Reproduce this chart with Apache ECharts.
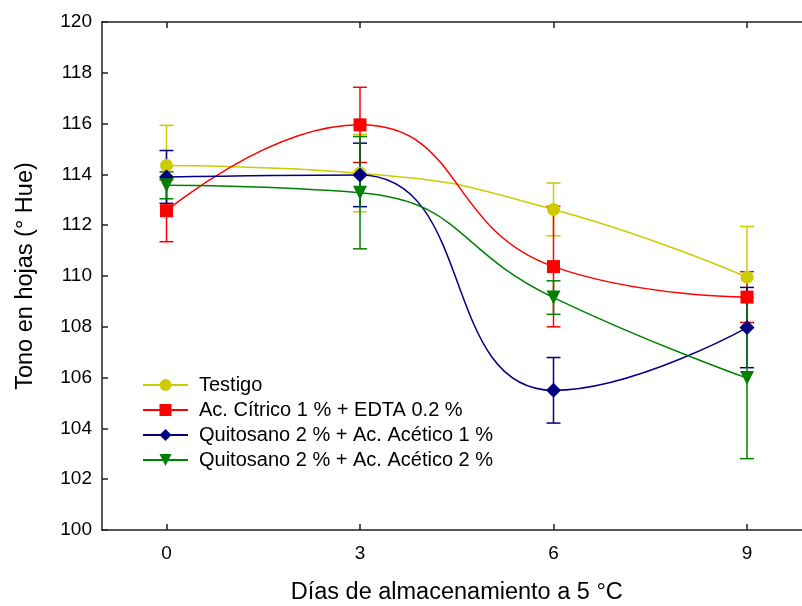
<!DOCTYPE html>
<html>
<head>
<meta charset="utf-8">
<script src="https://cdn.jsdelivr.net/npm/echarts@6/dist/echarts.min.js"></script>
<style>
  html, body { margin: 0; padding: 0; background: #fff; }
  #chart { width: 802px; height: 606px; }
</style>
</head>
<body>
<div id="chart"></div>
<script>
const days = [0, 3, 6, 9];
const names = [
  'Testigo',
  'Ac. Cítrico 1 % + EDTA 0.2 %',
  'Quitosano 2 % + Ac. Acético 1 %',
  'Quitosano 2 % + Ac. Acético 2 %'
];
const testigo = [114.35, 114.05, 112.62, 109.95];
const citrico = [112.57, 115.95, 110.37, 109.17];
const quito1 = [113.9, 113.98, 105.5, 107.97];
const quito2 = [113.57, 113.28, 109.15, 105.98];
const errTestigo = [1.58, 1.52, 1.04, 2.0];
const errCitrico = [1.22, 1.48, 2.37, 1.0];
const errQuito1 = [1.04, 1.25, 1.29, 1.58];
const errQuito2 = [0.53, 2.21, 0.66, 3.17];
const yTicks = [100, 102, 104, 106, 108, 110, 112, 114, 116, 118, 120];

const colors = ['#cccc00', '#ff0000', '#000080', '#008000'];
const symbols = ['circle', 'rect', 'diamond', 'triangle'];
const rotates = [0, 0, 0, 180];
const sizes = [13, 13, 15, 14];
const values = [testigo, citrico, quito1, quito2];
const errors = [errTestigo, errCitrico, errQuito1, errQuito2];

const chart = echarts.init(document.getElementById('chart'), null, { renderer: 'canvas' });

const font = '"Liberation Sans", Arial, sans-serif';

function errorBars(i) {
  const data = days.map((d, k) => [d, values[i][k] - errors[i][k], values[i][k] + errors[i][k]]);
  return {
    type: 'custom',
    name: names[i] + ' err',
    z: 1,
    data: data,
    encode: { x: 0, y: [1, 2] },
    renderItem: function (params, api) {
      const lo = api.coord([api.value(0), api.value(1)]);
      const hi = api.coord([api.value(0), api.value(2)]);
      const w = 7;
      const style = { stroke: colors[i], lineWidth: 1.5 };
      return {
        type: 'group',
        children: [
          { type: 'line', shape: { x1: lo[0], y1: lo[1], x2: hi[0], y2: hi[1] }, style: style },
          { type: 'line', shape: { x1: lo[0] - w, y1: lo[1], x2: lo[0] + w, y2: lo[1] }, style: style },
          { type: 'line', shape: { x1: hi[0] - w, y1: hi[1], x2: hi[0] + w, y2: hi[1] }, style: style }
        ]
      };
    }
  };
}

const lineSeries = names.map((n, i) => ({
  name: n,
  type: 'line',
  smooth: 0.5,
  z: 3,
  data: days.map((d, k) => [d, values[i][k]]),
  symbol: symbols[i],
  symbolSize: sizes[i],
  symbolRotate: rotates[i],
  showAllSymbol: true,
  lineStyle: { color: colors[i], width: 1.5 },
  itemStyle: { color: colors[i] }
}));

const option = {
  backgroundColor: '#fff',
  animation: false,
  textStyle: { fontFamily: font, color: '#000' },
  grid: { left: 102, top: 22, width: 709.5, height: 508, outerBoundsMode: 'none', containLabel: false },
  legend: {
    orient: 'vertical',
    left: 137,
    top: 370,
    itemWidth: 45,
    itemHeight: 15,
    itemGap: 5,
    data: names,
    textStyle: { fontSize: 20, lineHeight: 20, color: '#000', fontFamily: font, padding: [0, 0, 0, 6] }
  },
  xAxis: [
    {
      type: 'value',
      min: -1,
      max: 10,
      position: 'bottom',
      name: 'Días de almacenamiento a 5 °C',
      nameLocation: 'middle',
      nameGap: 51,
      nameTextStyle: { fontSize: 23.5, color: '#000', fontFamily: font },
      axisLine: { show: true, onZero: false, lineStyle: { color: '#222', width: 1.5 } },
      axisTick: { show: true, inside: true, length: 6, customValues: days, lineStyle: { color: '#222', width: 1.5 } },
      axisLabel: { customValues: days, fontSize: 19, color: '#000', margin: 14, fontFamily: font },
      splitLine: { show: false }
    },
    {
      type: 'value',
      min: -1,
      max: 10,
      position: 'top',
      axisLine: { show: true, onZero: false, lineStyle: { color: '#222', width: 1.5 } },
      axisTick: { show: true, inside: true, length: 6, customValues: days, lineStyle: { color: '#222', width: 1.5 } },
      axisLabel: { show: false },
      splitLine: { show: false }
    }
  ],
  yAxis: {
    type: 'value',
    min: 100,
    max: 120,
    interval: 2,
    name: 'Tono en hojas (° Hue)',
    nameLocation: 'middle',
    nameGap: 64,
    nameTextStyle: { fontSize: 23.5, color: '#000', fontFamily: font },
    axisLine: { show: true, onZero: false, lineStyle: { color: '#222', width: 1.5 } },
    axisTick: { show: true, inside: true, length: 6, customValues: yTicks, lineStyle: { color: '#222', width: 1.5 } },
    axisLabel: { customValues: yTicks, fontSize: 19, color: '#000', margin: 10, fontFamily: font },
    splitLine: { show: false }
  },
  series: [0, 1, 2, 3].map(errorBars).concat(lineSeries)
};

chart.setOption(option);
</script>
</body>
</html>
